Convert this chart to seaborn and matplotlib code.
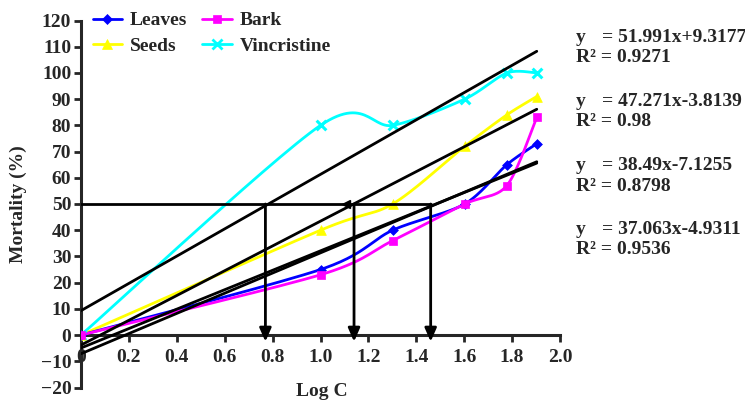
import numpy as np
import pandas as pd
import matplotlib
matplotlib.use("Agg")
import matplotlib.pyplot as plt
import seaborn as sns
from matplotlib.lines import Line2D

# ---- data ----
log_c = [0.0, 1.0, 1.301, 1.602, 1.778, 1.903]
leaves = [0, 25, 40, 50, 65, 73]
bark = [0, 23, 36, 50, 57, 83]
seeds = [0, 40, 50, 72, 84, 91]
vincristine = [0, 80, 80, 90, 100, 100]

series_names = ["Leaves", "Bark", "Seeds", "Vincristine"]
# trend line equations shown on chart (slope, intercept, R2)
eq_slopes = [51.991, 47.271, 38.49, 37.063]
eq_inter = [9.3177, -3.8139, -7.1255, -4.9311]
eq_r2 = ["0.9271", "0.98", "0.8798", "0.9536"]
eq_text = ["51.991x+9.3177", "47.271x-3.8139", "38.49x-7.1255", "37.063x-4.9311"]
target_mortality = 50
lc50_logc = [0.77, 1.14, 1.46]
y_ticks = list(range(-20, 121, 10))
x_ticks = [0, 0.2, 0.4, 0.6, 0.8, 1.0, 1.2, 1.4, 1.6, 1.8, 2.0]
x_tick_labels = ["0", "0.2", "0.4", "0.6", "0.8", "1.0", "1.2", "1.4", "1.6", "1.8", "2.0"]

colors = {"Leaves": "#0000FF", "Bark": "#FF00FF", "Seeds": "#FFFF00", "Vincristine": "#00FFFF"}
markers = {"Leaves": "D", "Bark": "s", "Seeds": "^", "Vincristine": "x"}
msizes = {"Leaves": 5, "Bark": 6, "Seeds": 7, "Vincristine": 7}

sns.set_style("ticks")
plt.rcParams["font.family"] = ["Liberation Serif", "DejaVu Serif"]
plt.rcParams["font.weight"] = "bold"

FS = 14

fig = plt.figure(figsize=(7.45, 4.0), dpi=100)
ax = fig.add_axes([81 / 745, 1 - 387.5 / 400, (560 - 81) / 745, (387.5 - 20.5) / 400])
ax.set_xlim(0, 2.0)
ax.set_ylim(-20, 120)


def smooth(xs, ys, sx=239.5, sy=2.62, n=30, k=1 / 7):
    # Excel-style smoothed line (Bezier through points in screen space)
    P = np.column_stack([np.asarray(xs) * sx, np.asarray(ys) * sy])
    pts = []
    for i in range(len(P) - 1):
        p0 = P[i - 1] if i > 0 else P[i]
        p1, p2 = P[i], P[i + 1]
        p3 = P[i + 2] if i + 2 < len(P) else P[i + 1]
        b1 = p1 + (p2 - p0) * k
        b2 = p2 - (p3 - p1) * k
        t = np.linspace(0, 1, n)[:, None]
        seg = ((1 - t) ** 3) * p1 + 3 * ((1 - t) ** 2) * t * b1 + 3 * (1 - t) * t ** 2 * b2 + t ** 3 * p2
        pts.append(seg if i == 0 else seg[1:])
    pts = np.vstack(pts)
    return pts[:, 0] / sx, pts[:, 1] / sy


data = {"Leaves": leaves, "Bark": bark, "Seeds": seeds, "Vincristine": vincristine}
for name in ["Vincristine", "Seeds", "Leaves", "Bark"]:
    sxs, sys_ = smooth(log_c, data[name])
    df = pd.DataFrame({"x": sxs, "y": sys_})
    sns.lineplot(data=df, x="x", y="y", ax=ax, color=colors[name], lw=2, sort=False,
                 estimator=None, zorder=3)
    dfp = pd.DataFrame({"x": log_c, "y": data[name]})
    mk = markers[name]
    if mk == "x":
        sns.scatterplot(data=dfp, x="x", y="y", ax=ax, marker="x", color=colors[name],
                        s=msizes[name] ** 2, linewidth=2.2, zorder=4)
    else:
        sns.scatterplot(data=dfp, x="x", y="y", ax=ax, marker=mk, color=colors[name],
                        edgecolor=colors[name], s=msizes[name] ** 2, linewidth=0.5, zorder=4)

# trend lines
xmax = max(log_c)
for m, b in zip(eq_slopes, eq_inter):
    xx = np.array([0, xmax])
    ax.plot(xx, m * xx + b, color="black", lw=2, zorder=5)

# LC50 construction lines
ax.plot([0, max(lc50_logc)], [target_mortality, target_mortality], color="black", lw=2, zorder=6)
for xh in lc50_logc:
    ax.annotate("", xy=(xh, -2.5), xytext=(xh, target_mortality),
                arrowprops=dict(arrowstyle="-|>,head_length=0.8,head_width=0.35", color="black", lw=2,
                                shrinkA=0, shrinkB=0), zorder=7)
ax.plot([lc50_logc[1] - 0.035], [target_mortality], marker="<", color="black", ms=6, zorder=7)

# axes styling
ax.spines["top"].set_visible(False)
ax.spines["right"].set_visible(False)
ax.spines["bottom"].set_position(("data", 0))
for s in ["left", "bottom"]:
    ax.spines[s].set_linewidth(2.2)
ax.set_yticks(y_ticks)
ax.set_xticks(x_ticks)
ax.set_xticklabels(x_tick_labels)
ax.tick_params(axis="both", width=2, length=5, labelsize=FS, pad=2)
ax.tick_params(axis="x", pad=5)
for lab in ax.get_xticklabels() + ax.get_yticklabels():
    lab.set_fontweight("bold")
ax.set_xlabel("")
ax.set_ylabel("")
fig.text(322 / 745, 1 - 391 / 400, "Log C", ha="center", va="center", fontsize=FS, fontweight="bold")
fig.text(18 / 745, 1 - 204 / 400, "Mortality (%)", ha="center", va="center", rotation=90,
         fontsize=FS, fontweight="bold")

# legend (row-major: Leaves, Bark / Seeds, Vincristine)
leg_order = ["Leaves", "Seeds", "Bark", "Vincristine"]
handles = [Line2D([0], [0], color=colors[n], lw=2, marker=markers[n], ms=msizes[n],
                  markeredgewidth=2 if markers[n] == "x" else 0.5) for n in leg_order]
leg = ax.legend(handles, leg_order, ncol=2, loc="upper left", bbox_to_anchor=(0.008, 1.045),
                frameon=False, fontsize=FS, handlelength=1.5, handletextpad=0.4,
                columnspacing=0.8, labelspacing=0.4, borderaxespad=0)
for t in leg.get_texts():
    t.set_fontweight("bold")

# equations
eq_y = [37, 101, 165, 229]
for yy, et, r2 in zip(eq_y, eq_text, eq_r2):
    fig.text(576 / 745, 1 - yy / 400, "y", ha="left", va="center", fontsize=FS, fontweight="bold")
    fig.text(602 / 745, 1 - yy / 400, "= " + et, ha="left", va="center", fontsize=FS, fontweight="bold")
    fig.text(576 / 745, 1 - (yy + 21) / 400, "R\u00b2 = " + r2, ha="left", va="center",
             fontsize=FS, fontweight="bold")

fig.savefig("out.png", dpi=100)
